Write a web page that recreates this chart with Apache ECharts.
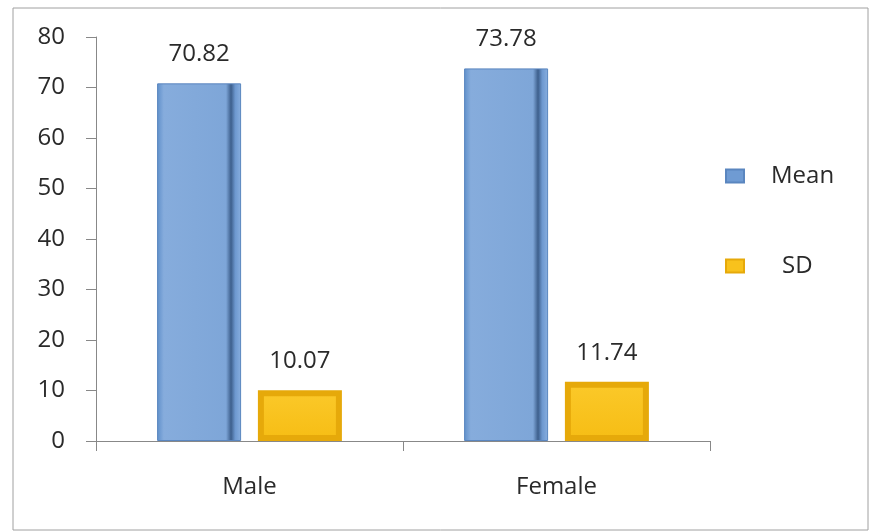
<!DOCTYPE html>
<html>
<head>
<meta charset="utf-8">
<script src="https://cdn.jsdelivr.net/npm/echarts@6/dist/echarts.min.js"></script>
<style>
  html, body { margin: 0; padding: 0; background: #fff; }
  #chart { width: 872px; height: 532px; }
</style>
</head>
<body>
<div id="chart"></div>
<script>
const categories = ['Male', 'Female'];
const meanValues = [70.82, 73.78];
const sdValues = [10.07, 11.74];
const yTicks = { min: 0, max: 80, interval: 10 };

const chart = echarts.init(document.getElementById('chart'));

const font = '"Open Sans", "Liberation Sans", sans-serif';

// blue "denim" look: light fill with a dark inner edge on the right
const meanColor = new echarts.graphic.LinearGradient(0, 0, 1, 0, [
    { offset: 0, color: '#5f8fca' },
    { offset: 0.08, color: '#86acdc' },
    { offset: 0.82, color: '#7ea6d8' },
    { offset: 0.88, color: '#3d5f8c' },
    { offset: 0.93, color: '#6d98cf' },
    { offset: 1, color: '#88afe0' }
]);
const sdColor = new echarts.graphic.LinearGradient(0, 0, 0, 1, [
    { offset: 0, color: '#fbc92a' },
    { offset: 1, color: '#f6bd14' }
]);

const option = {
    animation: false,
    graphic: [{
        type: 'rect',
        shape: { x: 13, y: 8, width: 855, height: 522 },
        style: { fill: 'none', stroke: '#a0a0a0', lineWidth: 1 }
    }],
    legend: {
        orient: 'vertical',
        left: 720,
        top: 159,
        icon: 'rect',
        itemWidth: 18,
        itemHeight: 13,
        itemGap: 66,
        textStyle: { fontFamily: font, fontSize: 24, color: '#2a2a2a', padding: [0, 0, 0, 22] },
        data: [
            { name: 'Mean', itemStyle: { color: '#6f9bd3' } },
            { name: 'SD', itemStyle: { color: '#f8c21c' }, textStyle: { padding: [0, 0, 0, 33] } }
        ]
    },
    grid: { left: 96, right: 162, top: 37, bottom: 91 },
    xAxis: {
        type: 'category',
        data: categories,
        axisLine: { lineStyle: { color: '#888', width: 1 } },
        axisTick: { show: true, length: 10, lineStyle: { color: '#888' } },
        axisLabel: { fontFamily: font, fontSize: 24, color: '#2a2a2a', margin: 34 }
    },
    yAxis: {
        type: 'value',
        min: yTicks.min,
        max: yTicks.max,
        interval: yTicks.interval,
        splitLine: { show: false },
        axisLine: { show: true, lineStyle: { color: '#888', width: 1 } },
        axisTick: { show: true, length: 10, lineStyle: { color: '#888' } },
        axisLabel: { fontFamily: font, fontSize: 24, color: '#2a2a2a', margin: 31 }
    },
    series: [
        {
            name: 'Mean',
            type: 'bar',
            data: meanValues,
            barWidth: 84,
            barGap: '20%',
            itemStyle: { color: meanColor, borderColor: '#5a86bf', borderWidth: 1 },
            label: {
                show: true, position: 'top', distance: 17,
                fontFamily: font, fontSize: 24, color: '#2a2a2a',
                formatter: p => p.value.toFixed(2)
            }
        },
        {
            name: 'SD',
            type: 'bar',
            data: sdValues,
            barWidth: 84,
            itemStyle: { color: sdColor, borderColor: '#e6a90a', borderWidth: 6 },
            label: {
                show: true, position: 'top', distance: 17,
                fontFamily: font, fontSize: 24, color: '#2a2a2a',
                formatter: p => p.value.toFixed(2)
            }
        }
    ]
};

chart.setOption(option);
</script>
</body>
</html>
